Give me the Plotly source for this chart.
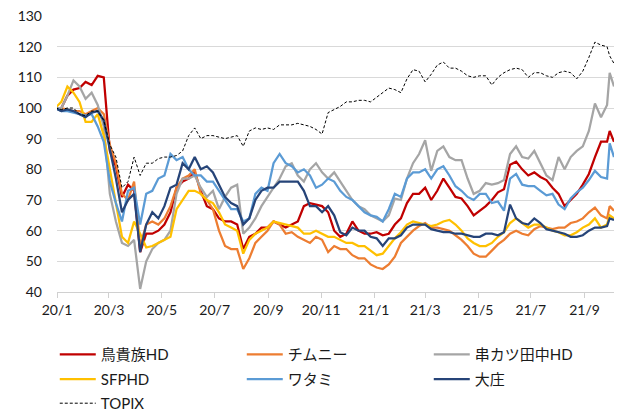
import pandas as pd
import plotly.graph_objects as go

# Dates: base day, weekly observations, last two trading days shown
dates = (["2019-12-30"]
         + [d.strftime("%Y-%m-%d") for d in pd.date_range("2020-01-06", "2021-09-27", freq="7D")]
         + ["2021-09-30", "2021-10-05"])

torikizoku = [100,
    100, 104, 106, 106.5, 108.5, 107.5, 110.5, 110, 86, 81,
    71, 75, 73, 53, 59, 59, 60, 62, 66, 74,
    76, 77, 79, 73, 68, 67, 64, 63, 63, 62,
    54, 58, 59, 61, 61, 63, 62, 61, 62, 63,
    68, 69, 68.5, 68, 66, 60, 58, 59, 63, 60,
    59, 59, 59.5, 58.5, 59, 62, 64, 69, 72, 72,
    74, 70, 73, 77, 74, 71, 70.5, 68, 65, 66.5,
    68, 70, 72.5, 73.5, 81.5, 82.5, 80, 78, 79, 77.5,
    76.5, 74, 72, 68, 70, 72, 75, 78.5, 84, 89, 89,
    92.5, 89]

chimney = [100,
    100, 99.5, 99, 99, 98, 99, 100, 98, 88, 82,
    72, 70, 76, 55, 62, 63, 62, 64, 68, 74,
    77, 78, 80, 72, 70, 67, 60, 55, 54, 54,
    47.5, 51, 56, 58, 60, 63, 62, 59, 59.5, 58,
    57, 56, 58, 57, 53, 55, 54, 54, 52, 51,
    51, 49, 48, 47.5, 49, 51.5, 56, 58, 60, 61.5,
    62.5, 61, 61, 60.5, 60, 58.5, 57, 55, 52.5, 51.5,
    51.5, 53.5, 55.5, 57, 59, 60, 59, 58.5, 60.5, 61.5,
    61, 60.5, 61, 61, 62.5, 63, 64, 66, 67.5, 65, 64,
    68, 66.5]

kushikatsu = [100,
    100, 104, 109, 107, 103, 105, 101, 94, 72, 63,
    56, 55, 57, 41, 50, 54, 56, 57, 60, 72,
    77, 77, 78, 74, 71, 73, 67, 71, 74, 75,
    59, 61, 64, 68, 71, 74, 77, 81, 82, 78,
    76, 80, 82, 79, 77, 79, 76, 73, 70, 68,
    67, 65, 64, 63, 65, 70.5, 70, 77, 82, 85,
    89.5, 79.5, 86, 87.5, 84, 83, 83, 77, 72, 73,
    75.5, 75, 75.5, 76.5, 85, 87.5, 84, 83.5, 86, 82,
    78, 76.5, 84, 80, 84, 86, 87.5, 92.5, 101.5, 97, 101,
    111.5, 107]

sfphd = [100,
    102, 107, 105, 102, 95.5, 95.5, 98, 91, 80, 70,
    58, 56, 63, 59, 54.5, 55, 56, 57, 58, 67,
    70, 73, 73, 72, 70, 69, 66, 62, 61, 60,
    52.5, 57, 59, 60, 61, 63, 62.5, 62, 61.5, 61,
    59, 59, 60, 59, 58, 58, 57, 56, 56, 55,
    55, 53.5, 52, 52.5, 55, 57.5, 59.5, 62, 63, 62.5,
    62, 61.5, 62, 63, 63.5, 62, 60, 57.5, 56, 55,
    55, 56, 58, 59.5, 62.5, 64, 62.5, 61, 62, 62,
    61, 60, 59.5, 58.5, 58.5, 59.5, 61, 62, 64, 61, 62,
    65, 64]

watami = [100,
    99, 99, 98.5, 98, 97.5, 98, 94, 89, 76, 69,
    63, 73, 74, 62, 72, 73, 77, 78, 85, 83,
    84, 80, 78, 78, 76, 76, 73, 70, 67, 67,
    63, 64, 72, 74, 73, 82, 85, 82, 81, 79,
    80, 78, 74, 75, 77, 76, 73, 71, 70, 68,
    66, 65, 64.5, 63, 67, 72, 71, 77, 79, 79,
    80, 77, 80, 81, 78, 74.5, 73, 71, 70, 72,
    72, 69, 69.5, 66.5, 77, 78.5, 75, 74.5, 74.5, 73,
    71.5, 72, 68.5, 67, 70.5, 72.5, 74, 76.5, 79.5, 77.5, 77,
    88.5, 84]

daisyo = [100,
    99, 99.5, 99, 98, 97, 98.5, 99, 96, 87, 77,
    66, 70, 72, 53, 62, 66, 64, 68, 74, 75,
    82, 80, 84, 80, 81, 79, 75, 71, 69, 68,
    62, 64, 70, 73, 74, 74, 76, 76, 76, 76,
    73, 68, 68, 66, 68, 65, 59.5, 58.5, 61, 60,
    60, 58, 57.5, 55, 57.5, 57.5, 58.5, 61, 62, 62,
    62, 60.5, 60, 59.5, 59.5, 59, 59, 58.5, 58, 58,
    59, 59, 58.5, 59.5, 68.5, 64, 62.5, 62, 64, 62.5,
    60.5, 60, 59.5, 59, 58, 58, 58.5, 60, 61, 61, 61.5,
    64, 63.5]

topix = [100,
    99.5, 100, 100, 98, 97.5, 99, 99, 96, 88, 84,
    74, 76, 84, 78, 82, 82, 83.5, 84, 84, 84.5,
    86, 91, 93.5, 90, 91, 91, 90.5, 90, 90.5, 91,
    87.5, 92.5, 93.5, 93, 93.5, 93, 94.5, 94.5, 94.5, 95,
    94.5, 94, 93, 91.5, 98.5, 99.5, 100.5, 102, 102, 102.5,
    102.5, 102, 103.5, 105, 106.5, 106, 105, 109.5, 112.5, 112,
    108.5, 111, 114, 115, 113, 113, 112, 110.5, 110, 110.5,
    110.5, 107.5, 110, 111.5, 112.5, 113, 112.5, 110, 111.5, 111.5,
    110.5, 110, 111.5, 112, 111.5, 109.5, 112, 116.5, 121.5, 120.5, 120,
    117, 114.5]

series_names = ["鳥貴族HD", "チムニー", "串カツ田中HD", "SFPHD", "ワタミ", "大庄", "TOPIX"]
series_values = [torikizoku, chimney, kushikatsu, sfphd, watami, daisyo, topix]
series_colors = ["#C00000", "#ED7D31", "#A5A5A5", "#FFC000", "#5B9BD5", "#264478", "#000000"]
legend_rows = ["legend", "legend", "legend", "legend2", "legend2", "legend2", "legend3"]

tick_dates = ["2020-01-01", "2020-03-01", "2020-05-01", "2020-07-01", "2020-09-01", "2020-11-01",
              "2021-01-01", "2021-03-01", "2021-05-01", "2021-07-01", "2021-09-01"]
tick_labels = ["20/1", "20/3", "20/5", "20/7", "20/9", "20/11",
               "21/1", "21/3", "21/5", "21/7", "21/9"]
y_ticks = [40, 50, 60, 70, 80, 90, 100, 110, 120, 130]

fig = go.Figure()
for name, vals, col, lg in zip(series_names, series_values, series_colors, legend_rows):
    if name == "TOPIX":
        line = dict(color=col, width=1, dash="3px,2px")
    else:
        line = dict(color=col, width=2.25)
    fig.add_trace(go.Scatter(x=dates, y=vals, mode="lines", name=name, line=line, legend=lg))

legend_style = dict(orientation="h", x=-0.004, xanchor="left", yanchor="top",
                    entrywidth=136, entrywidthmode="pixels", itemwidth=36,
                    font=dict(size=15), bgcolor="rgba(0,0,0,0)", traceorder="normal")

fig.update_layout(
    width=620, height=412,
    margin=dict(l=57, r=6, t=16, b=120, autoexpand=False),
    paper_bgcolor="white", plot_bgcolor="white",
    font=dict(family="Lato, 'Noto Sans CJK JP', sans-serif", size=14, color="#1a1a1a"),
    showlegend=True,
    hovermode=False,
    legend=dict(legend_style, y=-0.167),
    legend2=dict(legend_style, y=-0.257),
    legend3=dict(legend_style, y=-0.344),
)
fig.update_xaxes(type="date", range=["2020-01-01", "2021-10-05"],
                 tickvals=tick_dates, ticktext=tick_labels,
                 showgrid=False, showline=True, linecolor="#d0d0d0", linewidth=1,
                 ticks="outside", ticklen=5, tickcolor="#d0d0d0", zeroline=False)
fig.update_yaxes(range=[40, 130], tickvals=y_ticks, showgrid=True, gridcolor="#d9d9d9",
                 gridwidth=1, zeroline=False, showline=False, ticks="",
                 ticklabelstandoff=14)

fig.write_html("out.html", config={"displayModeBar": False},
               post_script="document.body.style.margin='0';")
